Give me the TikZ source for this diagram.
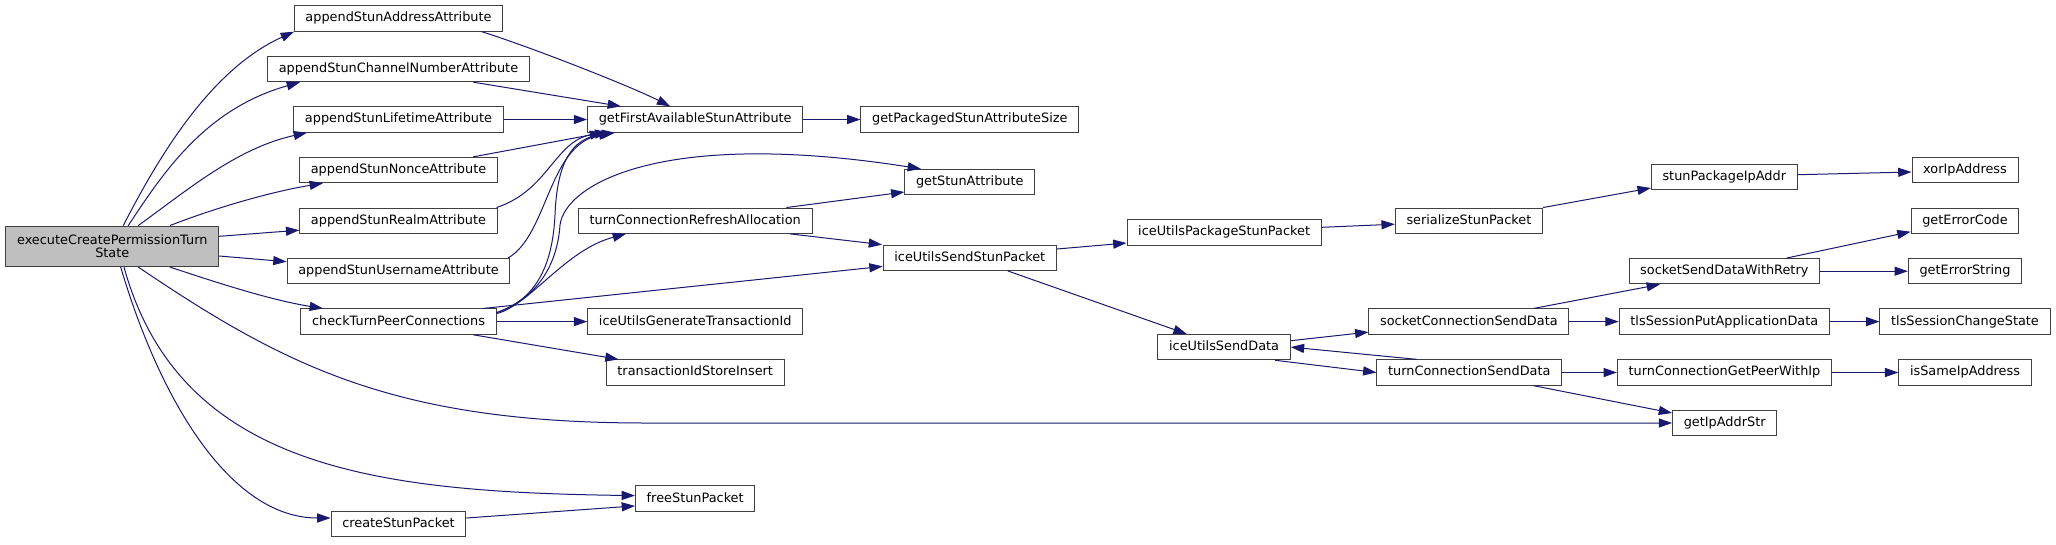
\documentclass[tikz,border=0pt]{standalone}
\usepackage{fontspec}
\setmainfont{DejaVu Sans}
\usetikzlibrary{arrows.meta,calc}
\definecolor{edgeblue}{RGB}{25,25,112}
\definecolor{boxline}{RGB}{64,64,64}
\definecolor{rootfill}{RGB}{191,191,191}

\tikzset{
  box/.style={draw=boxline, fill=white, line width=0.75pt, font=\fontsize{9.65}{10}\selectfont,
              inner xsep=8.4pt, inner ysep=0pt, minimum height=19pt, anchor=center},
  fn/.style={box, text height=7.4pt, text depth=2.3pt},
  root/.style={box, fill=rootfill, align=center, minimum height=30.4pt},
  call/.style={draw=edgeblue, line width=0.75pt, -{Triangle[length=10pt,width=6.8pt]}}
}

\begin{document}
\begin{tikzpicture}[x=0.75pt, y=-0.75pt]
            \useasboundingbox (0,0) rectangle (2056,544);
            \fill[white] (0,0) rectangle (2056,544);

            % callers and callees, column by column
            \node[root] (E) at (112.3,246.3) {executeCreatePermissionTurn\\State};

            \node[fn] (aAddr)  at (398.5,18.5)  {appendStunAddressAttribute};
            \node[fn] (aChan)  at (398.5,69)    {appendStunChannelNumberAttribute};
            \node[fn] (aLife)  at (398.5,119.5) {appendStunLifetimeAttribute};
            \node[fn] (aNonce) at (398.5,170)   {appendStunNonceAttribute};
            \node[fn] (aRealm) at (398.5,220.7) {appendStunRealmAttribute};
            \node[fn] (aUser)  at (398.5,271.2) {appendStunUsernameAttribute};
            \node[fn] (chk)    at (398.5,321.6) {checkTurnPeerConnections};
            \node[fn] (create) at (398.5,524)   {createStunPacket};

            \node[fn] (gFirst)  at (695.2,119.5) {getFirstAvailableStunAttribute};
            \node[fn] (refresh) at (695.2,220.7) {turnConnectionRefreshAllocation};
            \node[fn] (genTx)   at (695.2,321.6) {iceUtilsGenerateTransactionId};
            \node[fn] (txStore) at (695.2,372.5) {transactionIdStoreInsert};
            \node[fn] (freeP)   at (695.2,498.6) {freeStunPacket};

            \node[fn] (gPack)    at (969.8,119.5) {getPackagedStunAttributeSize};
            \node[fn] (gStun)    at (969.8,182)   {getStunAttribute};
            \node[fn] (sendStun) at (969.8,257.8) {iceUtilsSendStunPacket};

            \node[fn] (pkgStun)  at (1224.1,232.5) {iceUtilsPackageStunPacket};
            \node[fn] (sendData) at (1224.1,347.1) {iceUtilsSendData};

            \node[fn] (serial)   at (1468.9,220.7) {serializeStunPacket};
            \node[fn] (sockConn) at (1468.9,321.6) {socketConnectionSendData};
            \node[fn] (turnSend) at (1469.3,372.5) {turnConnectionSendData};

            \node[fn] (stunIp)    at (1724.3,177)   {stunPackageIpAddr};
            \node[fn] (sockRetry) at (1724.3,271.2) {socketSendDataWithRetry};
            \node[fn] (tlsPut)    at (1724.3,321.6) {tlsSessionPutApplicationData};
            \node[fn] (peerIp)    at (1724.5,372.5) {turnConnectionGetPeerWithIp};
            \node[fn] (ipStr)     at (1724.7,423)   {getIpAddrStr};

            \node[fn] (xorIp)    at (1965,170)   {xorIpAddress};
            \node[fn] (errCode)  at (1965,220.7) {getErrorCode};
            \node[fn] (errStr)   at (1965,271.2) {getErrorString};
            \node[fn] (tlsState) at (1965,321.6) {tlsSessionChangeState};
            \node[fn] (sameIp)   at (1965,372.5) {isSameIpAddress};

            % calls
            \draw[call] ($(E.north)+(11,0)$) .. controls (163,148) and (214,68) .. ($(aAddr.south)+(-104.5,0)$);
            \draw[call] ($(E.north)+(16,0)$) .. controls (163,173) and (205,109) .. ($(aChan.south)+(-98.5,0)$);
            \draw[call] ($(E.north)+(26,0)$) .. controls (187.5,190) and (237,148) .. ($(aLife.south)+(-91.5,0)$);
            \draw[call] ($(E.north)+(57.7,0)$) .. controls (215,208) and (270,192) .. ($(aNonce.south)+(-75.5,0)$);
            \draw[call] ($(E.east)+(0,-10)$) -- ($(aRealm.west)+(0,9.5)$);
            \draw[call] ($(E.east)+(0,9.7)$) -- ($(aUser.west)+(0,-9.5)$);
            \draw[call] ($(E.south)+(57.7,0)$) .. controls (215,282) and (270,300) .. ($(chk.north)+(-75.5,0)$);
            \draw[call] ($(E.south)+(26,0)$) .. controls (287.5,368) and (397,423) .. (647,423) -- (ipStr.west);
            \draw[call] ($(E.south)+(11.7,0)$) .. controls (180,470) and (380,492) .. ($(freeP.west)+(0,-3)$);
            \draw[call] ($(E.south)+(8.4,0)$) .. controls (160,400) and (230,518) .. ($(create.west)+(0,-6)$);

            \draw[call] ($(aAddr.south)+(83.2,0)$) .. controls (530,46.8) and (630,86) .. ($(gFirst.north)+(-25,0)$);
            \draw[call] ($(aChan.south)+(74.8,0)$) -- ($(gFirst.north)+(-74.2,0)$);
            \draw[call] (aLife.east) -- (gFirst.west);
            \draw[call] ($(aNonce.north)+(74.8,0)$) -- ($(gFirst.south)+(-92,0)$);
            \draw[call] ($(aRealm.north)+(98,0)$) .. controls (550,190) and (555,138) .. ($(gFirst.south)+(-87,0)$);
            \draw[call] ($(aUser.north)+(109.5,0)$) .. controls (548,235) and (548,145) .. ($(gFirst.south)+(-83,0)$);
            \draw[call] ($(create.east)+(0,-6)$) -- ($(freeP.west)+(0,7.3)$);

            \draw[call] ($(chk.east)+(0,-9)$) .. controls (542,298) and (553,255) .. (555,215)
                        .. controls (557,165) and (570,138) .. ($(gFirst.south)+(-80,0)$);
            \draw[call] ($(chk.east)+(0,-9)$) .. controls (545,295) and (558,255) .. (560,225)
                        .. controls (565,185) and (660,128) .. ($(gStun.north)+(-48.8,0)$);
            \draw[call] ($(chk.east)+(0,-8)$) .. controls (530,305) and (565,250) .. ($(refresh.south)+(-69.2,0)$);
            \draw[call] ($(chk.north)+(84.8,0)$) -- ($(sendStun.west)+(0,8.6)$);
            \draw[call] (chk.east) -- (genTx.west);
            \draw[call] ($(chk.south)+(74.7,0)$) -- ($(txStore.north)+(-76.6,0)$);

            \draw[call] (gFirst.east) -- (gPack.west);
            \draw[call] ($(refresh.north)+(91.2,0)$) -- ($(gStun.west)+(0,10)$);
            \draw[call] ($(refresh.south)+(94.8,0)$) -- ($(sendStun.north)+(-87.7,0)$);

            \draw[call] ($(sendStun.east)+(0,-8.8)$) -- ($(pkgStun.west)+(0,10.5)$);
            \draw[call] ($(sendStun.south)+(38.1,0)$) -- ($(sendData.north)+(-37.4,0)$);
            \draw[call] ($(pkgStun.east)+(0,-5.2)$) -- ($(serial.west)+(0,3.5)$);
            \draw[call] (serial.north east) -- ($(stunIp.west)+(0,11)$);
            \draw[call] ($(stunIp.east)+(0,-2.3)$) -- ($(xorIp.west)+(0,2)$);

            \draw[call] ($(sendData.east)+(0,-6.4)$) -- ($(sockConn.west)+(0,10.5)$);
            \draw[call] ($(sendData.south)+(51,0)$) -- (turnSend.west);
            \draw[call] ($(turnSend.north)+(-52.6,0)$) -- (sendData.east);
            \draw[call] ($(sockConn.north)+(64.7,0)$) -- ($(sockRetry.south)+(-64.3,0)$);
            \draw[call] (sockConn.east) -- (tlsPut.west);
            \draw[call] ($(turnSend.south)+(64.3,0)$) -- ($(ipStr.west)+(0,-10)$);
            \draw[call] (turnSend.east) -- (peerIp.west);

            \draw[call] ($(sockRetry.north)+(62.4,0)$) -- ($(errCode.west)+(0,11)$);
            \draw[call] (sockRetry.east) -- (errStr.west);
            \draw[call] (tlsPut.east) -- (tlsState.west);
            \draw[call] (peerIp.east) -- (sameIp.west);
\end{tikzpicture}
\end{document}
